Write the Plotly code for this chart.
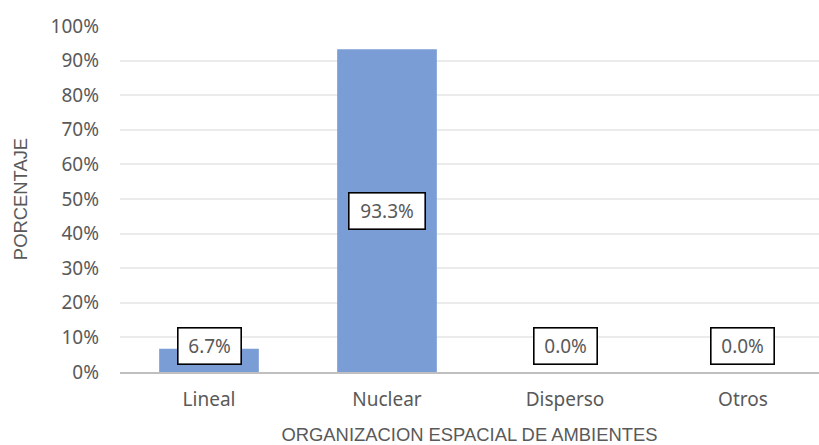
import plotly.graph_objects as go

categories = ["Lineal", "Nuclear", "Disperso", "Otros"]
values = [6.7, 93.3, 0.0, 0.0]
y_ticks = [0, 10, 20, 30, 40, 50, 60, 70, 80, 90, 100]
y_tick_labels = [f"{t}%" for t in y_ticks]

bar_color = "#7A9DD6"
text_color = "#595959"
font_main = "Noto Sans, Open Sans, sans-serif"
font_title = "Liberation Sans, Arial, sans-serif"

fig = go.Figure()
fig.add_trace(go.Bar(
    x=categories, y=values, marker=dict(color=bar_color, line=dict(width=0)),
    width=0.56, hoverinfo="skip",
))

for c, v in zip(categories, values):
    label_y = v / 2 if v > 20 else 7.5
    fig.add_annotation(
        x=c, y=label_y, text=f"{v:.1f}%", showarrow=False,
        font=dict(size=19, color=text_color, family=font_main),
        bgcolor="white", bordercolor="black", borderwidth=1.6,
        width=60 if v < 10 else 73, height=33,
        xanchor="center", yanchor="middle",
    )

fig.update_layout(
    width=819, height=445,
    margin=dict(l=120, r=0, t=26, b=73),
    plot_bgcolor="white", paper_bgcolor="white",
    showlegend=False,
    xaxis=dict(
        range=[-0.5, 3.427],
        showgrid=False, showline=True, linecolor="#BFBFBF", linewidth=2,
        ticks="", tickfont=dict(size=19, color=text_color, family=font_main),
        title=dict(text="ORGANIZACION ESPACIAL DE AMBIENTES",
                   font=dict(size=18.4, color=text_color, family=font_title),
                   standoff=20),
        ticklabelstandoff=9,
    ),
    yaxis=dict(
        range=[0, 100], tickvals=y_ticks, ticktext=y_tick_labels,
        showgrid=True, gridcolor="#EBEBEB", gridwidth=1.5,
        zeroline=False, showline=False, ticks="",
        tickfont=dict(size=19, color=text_color, family=font_main),
        ticklabelstandoff=20,
        title=dict(text="PORCENTAJE",
                   font=dict(size=18.4, color=text_color, family=font_title),
                   standoff=18),
    ),
)

fig.write_html("out.html", post_script="document.body.style.margin='0';",
               config={"displayModeBar": False})
